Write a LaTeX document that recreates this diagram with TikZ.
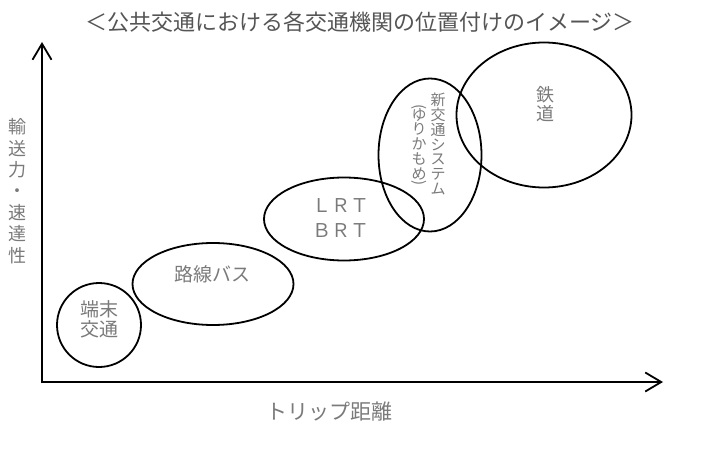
\documentclass[tikz,border=0pt]{standalone}
\usepackage{fontspec}
\usepackage{graphicx}
\usetikzlibrary{positioning,arrows.meta,shapes.geometric}
\newfontfamily\jp{Noto Sans CJK JP}
\definecolor{inkgray}{HTML}{7A7A7A}
\definecolor{titlegray}{HTML}{555555}

\begin{document}
\begin{tikzpicture}[
        x=1pt, y=-1pt,
        ring/.style={
            draw,
            ellipse,
            line width=1.8pt,
            inner sep=0pt
        },
        lbl/.style={
            text=inkgray,
            align=center,
            inner sep=0pt,
            font=\jp\fontsize{19}{20}\selectfont
        },
        axis/.style={
            line width=1.8pt,
            -{Straight Barb[length=16pt,width=19pt,line width=1.8pt]}
        }
    ]
    \useasboundingbox (0,0) rectangle (704,460);

    % Title
    \node[lbl, text=titlegray, font=\jp\fontsize{22}{24}\selectfont] (title) at (360,22)
        {＜公共交通における各交通機関の位置付けのイメージ＞};

    % Axes
    \coordinate (origin) at (42,382);
    \coordinate (ytop) at (42,42);
    \coordinate (xend) at (663,382);
    \draw[axis] ([yshift=-1pt]origin) -- (ytop);
    \draw[axis] ([xshift=-1pt]origin) -- (xend);

    % Axis labels
    \node[lbl, font=\jp\fontsize{18}{21.4}\selectfont] (ylabel) at (18,191)
        {輸\\送\\力\\・\\速\\達\\性};
    \node[lbl, font=\jp\fontsize{21}{22}\selectfont] (xlabel) at (329,412) {トリップ距離};

    % Transport modes
    \node[ring, minimum width=84pt, minimum height=84pt] (tanmatsu) at (99,325) {};
    \node[ring, minimum width=161pt, minimum height=82pt] (rosen) at (213,284) {};
    \node[ring, minimum width=160pt, minimum height=83pt] (lrt) at (344,219) {};
    \node[ring, minimum width=103pt, minimum height=153pt] (shin) at (430,155) {};
    \node[ring, minimum width=175pt, minimum height=145pt] (tetsudo) at (544,115) {};

    % Mode labels
    \node[lbl] at (99,319) {端末\\交通};
    \node[lbl] at (212,274) {路線バス};
    \node[lbl, font=\jp\fontsize{19}{25}\selectfont] at (341,218) {ＬＲＴ\\ＢＲＴ};
    \node[lbl, font=\jp\fontsize{15}{14.7}\selectfont] at (438,144)
        {新\\交\\通\\シ\\ス\\テ\\ム};
    \node[lbl, font=\jp\fontsize{15}{14.7}\selectfont] at (419,146)
        {\rotatebox[origin=c]{-90}{(}\\[-6pt]ゆ\\り\\か\\も\\め\\[-6pt]\rotatebox[origin=c]{-90}{)}};
    \node[lbl, font=\jp\fontsize{18}{19}\selectfont] at (545,104) {鉄\\道};

\end{tikzpicture}
\end{document}
